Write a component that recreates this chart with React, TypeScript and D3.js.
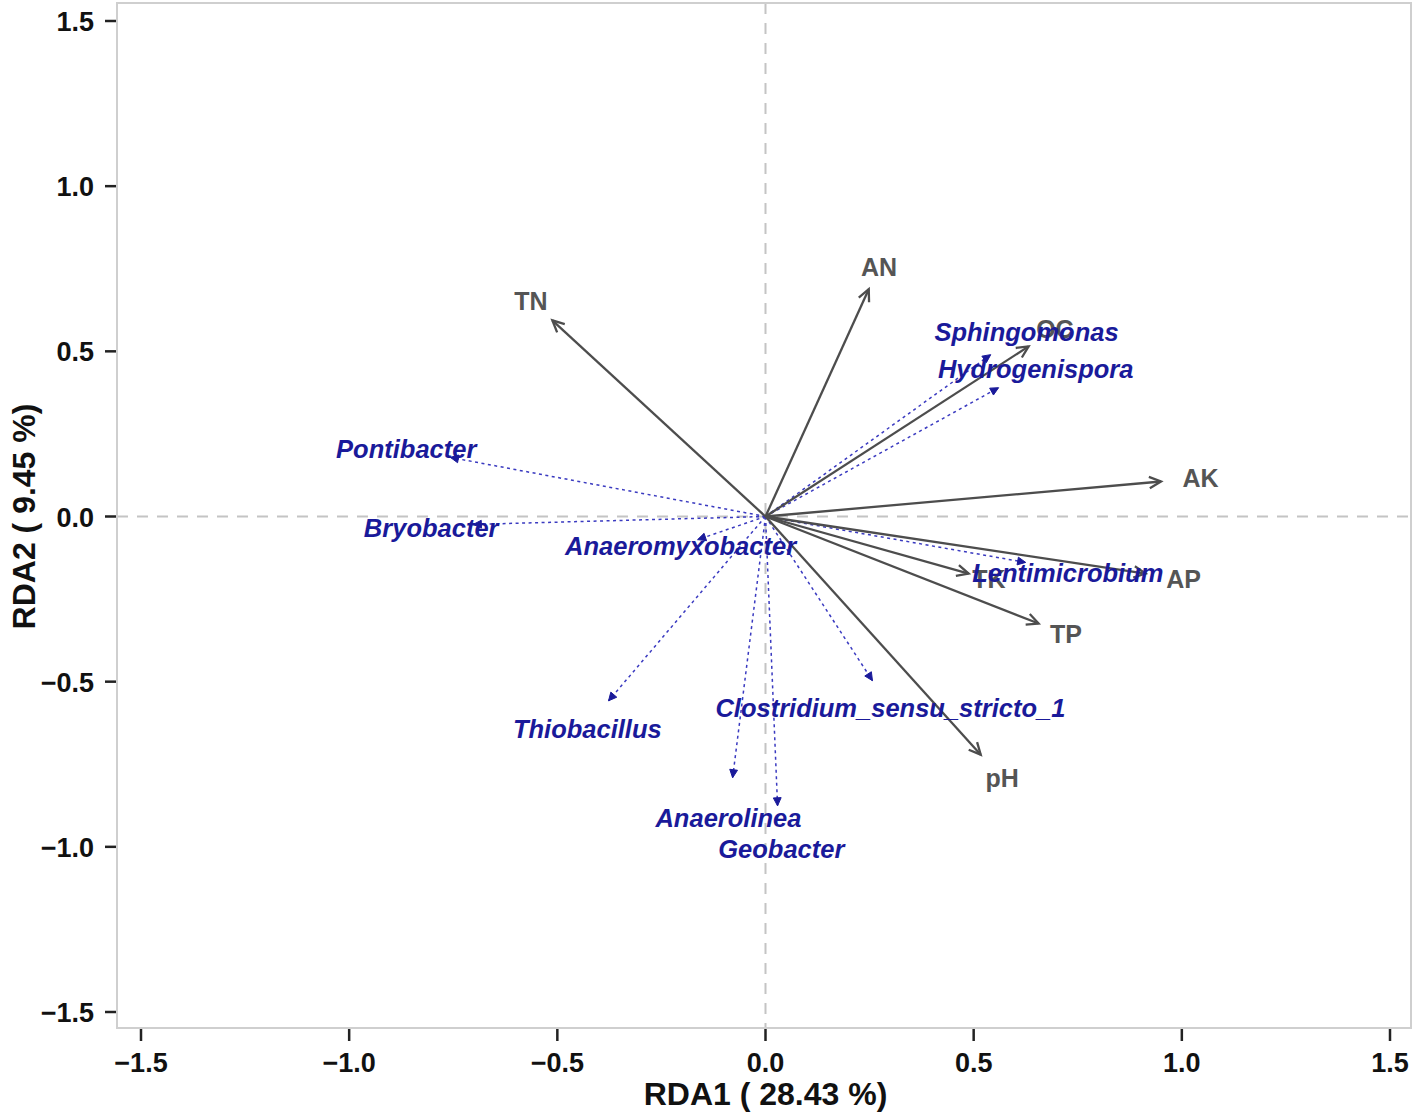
import React from "react";
import * as d3 from "d3";

const envNames = ["TN", "AN", "OC", "AK", "AP", "TK", "TP", "pH"];
const envX = [-0.512, 0.248, 0.632, 0.95, 0.913, 0.488, 0.656, 0.517];
const envY = [0.594, 0.688, 0.515, 0.106, -0.173, -0.173, -0.324, -0.721];
const envLabelScale = 1.1;

const spNames = [
  "Sphingomonas",
  "Hydrogenispora",
  "Pontibacter",
  "Bryobacter",
  "Anaeromyxobacter",
  "Thiobacillus",
  "Anaerolinea",
  "Geobacter",
  "Clostridium_sensu_stricto_1",
  "Lentimicrobium",
];
const spX = [0.541, 0.56, -0.757, -0.702, -0.163, -0.377, -0.079, 0.029, 0.257, 0.625];
const spY = [0.49, 0.39, 0.179, -0.024, -0.07, -0.558, -0.791, -0.876, -0.497, -0.139];
const spLabelX = [0.627, 0.649, -0.863, -0.803, -0.204, -0.428, -0.089, 0.038, 0.3, 0.726];
const spLabelY = [0.56, 0.448, 0.203, -0.036, -0.088, -0.642, -0.912, -1.006, -0.579, -0.17];

const ticks = [-1.5, -1.0, -0.5, 0.0, 0.5, 1.0, 1.5];
const xTitle = "RDA1 ( 28.43 %)";
const yTitle = "RDA2 ( 9.45 %)";

const W = 1416;
const H = 1116;
const left = 117;
const right = 1411;
const top = 3;
const bottom = 1028;

const x = d3.scaleLinear().domain([-1.5, 1.5]).range([141, 1390]);
const y = d3.scaleLinear().domain([-1.5, 1.5]).range([1012, 21]);

const FONT = "'Liberation Sans', Arial, Helvetica, sans-serif";
const fmt = (v: number) => (v < 0 ? "\u2212" + Math.abs(v).toFixed(1) : v.toFixed(1));

function head(x1: number, y1: number, x2: number, y2: number, len: number, ang: number) {
  const a = Math.atan2(y2 - y1, x2 - x1);
  const p1 = [x2 - len * Math.cos(a - ang), y2 - len * Math.sin(a - ang)];
  const p2 = [x2 - len * Math.cos(a + ang), y2 - len * Math.sin(a + ang)];
  return { p1, p2 };
}

export default function App() {
  const ox = x(0);
  const oy = y(0);
  return (
    <svg
      width={W}
      height={H}
      style={{ position: "absolute", left: 0, top: 0, background: "#fff" }}
      fontFamily={FONT}
    >
      <rect x={0} y={0} width={W} height={H} fill="#fff" />
      {/* zero lines */}
      <line x1={left} x2={right} y1={oy} y2={oy} stroke="#c4c4c4" strokeWidth={2} strokeDasharray="11,9" />
      <line x1={ox} x2={ox} y1={top} y2={bottom} stroke="#c4c4c4" strokeWidth={2} strokeDasharray="11,9" />

      {/* species arrows */}
      {spNames.map((n, i) => {
        const x2 = x(spX[i]);
        const y2 = y(spY[i]);
        const h = head(ox, oy, x2, y2, 9, 0.45);
        return (
          <g key={"sp" + n}>
            <line x1={ox} y1={oy} x2={x2} y2={y2} stroke="#3a3ac0" strokeWidth={1.5} strokeDasharray="3,3.5" />
            <path
              d={`M${x2},${y2}L${h.p1[0]},${h.p1[1]}L${h.p2[0]},${h.p2[1]}Z`}
              fill="#1a1a9a"
              stroke="#1a1a9a"
              strokeWidth={1}
            />
          </g>
        );
      })}

      {/* env arrows */}
      {envNames.map((n, i) => {
        const x2 = x(envX[i]);
        const y2 = y(envY[i]);
        const h = head(ox, oy, x2, y2, 13, 0.45);
        return (
          <g key={"env" + n}>
            <line x1={ox} y1={oy} x2={x2} y2={y2} stroke="#4d4d4d" strokeWidth={2.3} />
            <path
              d={`M${h.p1[0]},${h.p1[1]}L${x2},${y2}L${h.p2[0]},${h.p2[1]}`}
              fill="none"
              stroke="#4d4d4d"
              strokeWidth={2.3}
              strokeLinejoin="miter"
            />
          </g>
        );
      })}

      {/* env labels */}
      {envNames.map((n, i) => (
        <text
          key={"envl" + n}
          x={x(envX[i] * envLabelScale)}
          y={y(envY[i] * envLabelScale)}
          textAnchor="middle"
          dominantBaseline="central"
          fontSize={25}
          fontWeight="bold"
          fill="#555555"
        >
          {n}
        </text>
      ))}

      {/* species labels */}
      {spNames.map((n, i) => (
        <text
          key={"spl" + n}
          x={x(spLabelX[i])}
          y={y(spLabelY[i])}
          textAnchor="middle"
          dominantBaseline="central"
          fontSize={25.5}
          fontWeight="bold"
          fontStyle="italic"
          fill="#1a1a9a"
        >
          {n}
        </text>
      ))}

      {/* panel border */}
      <rect x={left} y={top} width={right - left} height={bottom - top} fill="none" stroke="#cfcfcf" strokeWidth={2} />

      {/* y axis ticks */}
      {ticks.map((t) => (
        <g key={"yt" + t}>
          <line x1={105} x2={116} y1={y(t)} y2={y(t)} stroke="#222" strokeWidth={2.5} />
          <text x={94} y={y(t) + 10} textAnchor="end" fontSize={27} fontWeight="bold" fill="#111">
            {fmt(t)}
          </text>
        </g>
      ))}
      {/* x axis ticks */}
      {ticks.map((t) => (
        <g key={"xt" + t}>
          <line x1={x(t)} x2={x(t)} y1={1029} y2={1041} stroke="#222" strokeWidth={2.5} />
          <text x={x(t)} y={1072} textAnchor="middle" fontSize={27} fontWeight="bold" fill="#111">
            {fmt(t)}
          </text>
        </g>
      ))}

      <text x={x(0)} y={1105} textAnchor="middle" fontSize={32} fontWeight="bold" fill="#111">
        {xTitle}
      </text>
      <text
        transform={`translate(35,${y(0)}) rotate(-90)`}
        textAnchor="middle"
        fontSize={32}
        fontWeight="bold"
        fill="#111"
      >
        {yTitle}
      </text>
    </svg>
  );
}
